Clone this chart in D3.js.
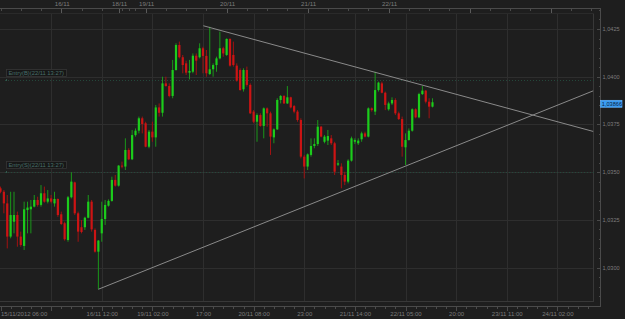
<!DOCTYPE html>
<html><head><meta charset="utf-8">
<script src="https://cdn.jsdelivr.net/npm/d3@7"></script>
<style>html,body{margin:0;padding:0;background:#1e1e1e;overflow:hidden}svg{display:block}</style>
</head><body><svg id="c" width="625" height="319"></svg>
<script>
// ---- data (hourly candles) ----
const candleOpen = [
1.03415,1.03397,1.03336,1.03162,1.03240,1.03275,1.03162,1.03113,1.03301,1.03305,
1.03319,1.03354,1.03328,1.03389,1.03345,1.03362,1.03336,1.03359,1.03279,1.03232,
1.03144,1.03368,1.03446,1.03284,1.03211,1.03211,1.03261,1.03345,1.03197,1.03083,
1.03179,1.03254,1.03324,1.03349,1.03459,1.03429,1.03534,1.03529,1.03616,1.03567,
1.03694,1.03717,1.03782,1.03756,1.03633,1.03712,1.03682,1.03839,1.03811,1.03965,
1.03951,1.03899,1.04035,1.04166,1.04102,1.04070,1.04021,1.04026,1.04110,1.04102,
1.04149,1.04109,1.04014,1.04039,1.04061,1.04096,1.04149,1.04114,1.04198,1.04114,
1.04058,1.04035,1.03934,1.04035,1.03957,1.03817,1.03764,1.03799,1.03742,1.03834,
1.03808,1.03682,1.03724,1.03878,1.03899,1.03860,1.03892,1.03846,1.03817,1.03773,
1.03581,1.03529,1.03590,1.03637,1.03647,1.03738,1.03659,1.03665,1.03677,1.03651,
1.03539,1.03529,1.03485,1.03450,1.03560,1.03659,1.03651,1.03672,1.03703,1.03686,
1.03834,1.03817,1.03930,1.03965,1.03916,1.03829,1.03860,1.03878,1.03808,1.03778,
1.03630,1.03668,1.03717,1.03829,1.03787,1.03909,1.03927,1.03869,1.03843];
const candleHigh = [
1.03424,1.03406,1.03380,1.03397,1.03397,1.03293,1.03188,1.03345,1.03345,1.03354,
1.03380,1.03371,1.03432,1.03424,1.03406,1.03380,1.03397,1.03362,1.03293,1.03240,
1.03375,1.03499,1.03450,1.03293,1.03249,1.03266,1.03380,1.03354,1.03205,1.03144,
1.03345,1.03354,1.03357,1.03476,1.03485,1.03537,1.03555,1.03677,1.03625,1.03721,
1.03729,1.03791,1.03791,1.03764,1.03721,1.03764,1.03852,1.03860,1.04000,1.04000,
1.03965,1.04088,1.04175,1.04184,1.04114,1.04084,1.04088,1.04122,1.04122,1.04175,
1.04157,1.04140,1.04262,1.04070,1.04105,1.04236,1.04157,1.04201,1.04201,1.04184,
1.04070,1.04044,1.04044,1.04053,1.03965,1.03825,1.03808,1.03808,1.03839,1.03839,
1.03817,1.03729,1.03887,1.03904,1.03904,1.03951,1.03895,1.03852,1.03825,1.03782,
1.03590,1.03598,1.03677,1.03677,1.03773,1.03742,1.03694,1.03721,1.03694,1.03659,
1.03563,1.03546,1.03502,1.03567,1.03686,1.03677,1.03677,1.03712,1.03712,1.03839,
1.03839,1.04026,1.03974,1.03974,1.03922,1.03869,1.03892,1.03887,1.03817,1.03791,
1.03703,1.03729,1.03834,1.03834,1.03916,1.03951,1.03930,1.03887,1.03887];
const candleLow = [
1.03389,1.03284,1.03100,1.03153,1.03179,1.03109,1.03109,1.03092,1.03179,1.03179,
1.03315,1.03319,1.03319,1.03340,1.03336,1.03336,1.03319,1.03266,1.03223,1.03141,
1.03135,1.03362,1.03275,1.03135,1.03179,1.03197,1.03258,1.03188,1.03078,1.02886,
1.03135,1.03223,1.03319,1.03345,1.03424,1.03424,1.03520,1.03511,1.03563,1.03563,
1.03686,1.03703,1.03703,1.03630,1.03625,1.03659,1.03633,1.03791,1.03791,1.03948,
1.03892,1.03887,1.04032,1.04096,1.04018,1.04009,1.03986,1.04018,1.04009,1.04096,
1.04018,1.04000,1.04009,1.04000,1.04026,1.04091,1.04105,1.04109,1.04053,1.04053,
1.03974,1.03927,1.03922,1.03948,1.03804,1.03756,1.03659,1.03738,1.03677,1.03738,
1.03590,1.03651,1.03721,1.03860,1.03857,1.03857,1.03834,1.03808,1.03764,1.03572,
1.03467,1.03511,1.03581,1.03625,1.03637,1.03682,1.03651,1.03642,1.03642,1.03485,
1.03532,1.03415,1.03432,1.03441,1.03555,1.03647,1.03642,1.03659,1.03682,1.03682,
1.03817,1.03799,1.03922,1.03913,1.03825,1.03822,1.03852,1.03799,1.03773,1.03581,
1.03537,1.03665,1.03712,1.03782,1.03782,1.03904,1.03860,1.03782,1.03839];
const candleClose = [
1.03397,1.03336,1.03162,1.03275,1.03275,1.03162,1.03118,1.03305,1.03314,1.03319,
1.03354,1.03328,1.03389,1.03345,1.03362,1.03345,1.03359,1.03275,1.03228,1.03148,
1.03368,1.03450,1.03284,1.03188,1.03186,1.03261,1.03345,1.03200,1.03083,1.03141,
1.03254,1.03328,1.03349,1.03459,1.03429,1.03534,1.03529,1.03616,1.03567,1.03694,
1.03717,1.03782,1.03752,1.03633,1.03712,1.03682,1.03839,1.03811,1.03965,1.03951,
1.03899,1.04035,1.04166,1.04102,1.04061,1.04021,1.04030,1.04110,1.04084,1.04149,
1.04109,1.04018,1.04039,1.04061,1.04096,1.04149,1.04122,1.04198,1.04058,1.04061,
1.03979,1.03930,1.04035,1.03957,1.03808,1.03764,1.03799,1.03742,1.03834,1.03808,
1.03686,1.03724,1.03878,1.03899,1.03860,1.03892,1.03839,1.03817,1.03773,1.03581,
1.03529,1.03593,1.03637,1.03647,1.03738,1.03686,1.03686,1.03689,1.03651,1.03502,
1.03546,1.03485,1.03450,1.03560,1.03677,1.03668,1.03665,1.03703,1.03686,1.03834,
1.03825,1.03930,1.03969,1.03916,1.03852,1.03860,1.03878,1.03808,1.03778,1.03633,
1.03668,1.03717,1.03829,1.03787,1.03909,1.03927,1.03869,1.03843,1.03866];

// price axis
const priceTicks = [1.0300, 1.0325, 1.0350, 1.0375, 1.0400, 1.0425];
// bottom time axis (candle index -> label)
const bottomTickIndex = [0, 30, 45, 60, 75, 90, 105, 120, 135, 150, 165];
const bottomTickLabels = ["15/11/2012 06:00","16/11 12:00","19/11 02:00","17:00","20/11 08:00","23:00","21/11 14:00","22/11 05:00","20:00","23/11 11:00","24/11 02:00"];
const gridIndex = [0, 15, 30, 45, 60, 75, 90, 105, 120, 135, 150, 165];
// top date axis
const topTickIndex = [18, 35, 43, 67, 91, 115, 139, 163];
const topTickLabels = ["16/11", "18/11", "19/11", "20/11", "21/11", "22/11", "", ""];
const topMinorIndex = [0,6,12,24,30,36,38,40,49,55,61,73,79,85,97,103,109,121,127,133,145,151,157,169,175];
// trend lines (start index, start price, end index, end price)
const trendStartIndex = [60.1, 29.0];
const trendStartPrice = [1.04267, 1.02886];
const trendEndIndex = [175.65, 175.65];
const trendEndPrice = [1.03713, 1.03926];
// entry levels
const entryLabels = ["Entry(B)(22/11 13:27)", "Entry(S)(22/11 13:27)"];
const entryPrices = [1.03983, 1.03502];

// ---- drawing ----
const W = 625, H = 319;
const plotRight = 593.5, plotTop = 13.5, plotBottom = 301.5;
const axisTop = 8.5, axisBottom = 306.5, axisRight = 600.5;
const x = d3.scaleLinear().domain([0, 176]).range([0.5, 594.5]);
const y = d3.scaleLinear().domain([1.0300, 1.0425]).range([267.5, 29]);
const fmt = p => d3.format(".4f")(p).replace(".", ",");
const FONT = "'Liberation Sans', Arial, sans-serif";

const svg = d3.select("#c");
svg.append("rect").attr("width", W).attr("height", H).attr("fill", "#1e1e1e");

svg.append("defs").append("clipPath").attr("id", "plotclip")
  .append("rect").attr("x", 0).attr("y", plotTop).attr("width", plotRight).attr("height", plotBottom - plotTop);

const grid = svg.append("g").attr("shape-rendering", "crispEdges").attr("stroke", "#2e2e2e").attr("stroke-width", 1);
grid.selectAll("line.h").data(priceTicks).join("line")
  .attr("x1", 0).attr("x2", plotRight)
  .attr("y1", d => Math.round(y(d)) + 0.5).attr("y2", d => Math.round(y(d)) + 0.5);
grid.selectAll("line.v").data(gridIndex.slice(1)).join("line")
  .attr("y1", plotTop).attr("y2", plotBottom)
  .attr("x1", d => Math.round(x(d)) + 0.5).attr("x2", d => Math.round(x(d)) + 0.5);

// plot frame
const frame = svg.append("g").attr("shape-rendering", "crispEdges").attr("stroke", "#383838").attr("fill", "none");
frame.append("line").attr("x1", plotRight).attr("x2", plotRight).attr("y1", plotTop).attr("y2", plotBottom);
frame.append("line").attr("x1", 0).attr("x2", plotRight).attr("y1", plotBottom).attr("y2", plotBottom);
frame.append("line").attr("x1", 0).attr("x2", plotRight).attr("y1", plotTop).attr("y2", plotTop).attr("stroke", "#2a2a2a");

// axes lines
const ax = svg.append("g").attr("shape-rendering", "crispEdges").attr("stroke", "#4a4a4a");
ax.append("line").attr("x1", 0).attr("x2", axisRight).attr("y1", axisTop).attr("y2", axisTop);
ax.append("line").attr("x1", 0).attr("x2", axisRight).attr("y1", axisBottom).attr("y2", axisBottom);
ax.append("line").attr("x1", axisRight).attr("x2", axisRight).attr("y1", axisTop).attr("y2", axisBottom);

// top ticks
topMinorIndex.forEach(i => {
  const xx = Math.round(x(i)) + 0.5;
  ax.append("line").attr("x1", xx).attr("x2", xx).attr("y1", axisTop).attr("y2", axisTop + 2.5);
});
topTickIndex.forEach(i => {
  const xx = Math.round(x(i)) + 0.5;
  ax.append("line").attr("x1", xx).attr("x2", xx).attr("y1", axisTop).attr("y2", axisTop + 4.5).attr("stroke", "#5a5a5a");
});
svg.append("g").selectAll("text").data(topTickIndex.map((d, k) => [d, topTickLabels[k]]).filter(d => d[1])).join("text")
  .attr("x", d => x(d[0]) + 1).attr("y", 6.3).attr("text-anchor", "middle")
  .attr("font-family", FONT).attr("font-size", "6.2px").attr("fill", "#7c7c7c").text(d => d[1]);

// bottom ticks
for (let i = 0; i <= 175; i += 3) {
  const xx = Math.round(x(i)) + 0.5;
  const major = i % 15 === 0;
  ax.append("line").attr("x1", xx).attr("x2", xx).attr("y1", axisBottom).attr("y2", axisBottom + (major ? 4 : 2));
}
svg.append("g").selectAll("text").data(bottomTickIndex.map((d, k) => [d, bottomTickLabels[k]])).join("text")
  .attr("x", d => d[0] === 0 ? 1 : x(d[0]) + 0.5).attr("y", 315.8)
  .attr("text-anchor", d => d[0] === 0 ? "start" : "middle")
  .attr("font-family", FONT).attr("font-size", "6px").attr("fill", "#7c7c7c").text(d => d[1]);

// right ticks
for (let k = 0; k <= 31; k++) {
  const p = 1.0280 + k * 0.0005;
  const yy = Math.round(y(p)) + 0.5;
  if (yy < axisTop || yy > axisBottom) continue;
  const major = k % 5 === 4;
  ax.append("line").attr("x1", axisRight).attr("x2", axisRight - (major ? 4 : 2)).attr("y1", yy).attr("y2", yy);
}
svg.append("g").selectAll("text").data(priceTicks).join("text")
  .attr("x", 602.5).attr("y", d => y(d) + 2)
  .attr("font-family", FONT).attr("font-size", "5.6px").attr("fill", "#7c7c7c").text(d => fmt(d));

// entry levels
const ent = svg.append("g");
entryPrices.forEach((p, k) => {
  const yy = Math.round(y(p)) + 0.5;
  ent.append("line").attr("x1", 5).attr("x2", plotRight).attr("y1", yy).attr("y2", yy)
    .attr("stroke", "#24483b").attr("stroke-dasharray", "1,2").attr("shape-rendering", "crispEdges");
  ent.append("line").attr("x1", 6.5).attr("x2", 6.5).attr("y1", yy - 1.5).attr("y2", yy + 0.5)
    .attr("stroke", "#35584e").attr("shape-rendering", "crispEdges");
  ent.append("rect").attr("x", 6.5).attr("y", yy - 11).attr("width", 60).attr("height", 7)
    .attr("fill", "#171717").attr("stroke", "#363636").attr("stroke-width", 0.8);
  ent.append("text").attr("x", 8.5).attr("y", yy - 5.4)
    .attr("font-family", FONT).attr("font-size", "5.8px").attr("fill", "#48706a").text(entryLabels[k]);
});

// candles
const cg = svg.append("g").attr("clip-path", "url(#plotclip)");
const idx = d3.range(candleOpen.length);
const up = i => candleClose[i] >= candleOpen[i];
cg.selectAll("rect.w").data(idx).join("rect")
  .attr("x", i => x(i) - 0.5).attr("width", 1)
  .attr("y", i => y(candleHigh[i])).attr("height", i => Math.max(0.8, y(candleLow[i]) - y(candleHigh[i])))
  .attr("fill", i => up(i) ? "#1a961a" : "#a01212");
cg.selectAll("rect.b").data(idx).join("rect")
  .attr("x", i => x(i) - 1.1).attr("width", 2.2)
  .attr("y", i => y(Math.max(candleOpen[i], candleClose[i])))
  .attr("height", i => Math.max(1, Math.abs(y(candleOpen[i]) - y(candleClose[i]))))
  .attr("fill", i => up(i) ? "#1ccc1c" : "#cc1414");

// trend lines
svg.append("g").attr("clip-path", "url(#plotclip)").selectAll("line").data(trendStartIndex.map((d, k) => k)).join("line")
  .attr("x1", k => x(trendStartIndex[k])).attr("y1", k => y(trendStartPrice[k]))
  .attr("x2", k => x(trendEndIndex[k])).attr("y2", k => y(trendEndPrice[k]))
  .attr("stroke", "#8a8a8a").attr("stroke-width", 1);

// last price label
const last = candleClose[candleClose.length - 1];
const ly = y(last) + 1.5;
svg.append("rect").attr("x", 600.5).attr("y", ly - 3.5).attr("width", 21.5).attr("height", 7)
  .attr("fill", "#3a9cf2").attr("stroke", "#6ab8ff").attr("stroke-width", 0.6);
svg.append("text").attr("x", 601.8).attr("y", ly + 2)
  .attr("font-family", FONT).attr("font-size", "5.6px").attr("fill", "#0c2340").text(d3.format(".5f")(last).replace(".", ","));
</script></body></html>
